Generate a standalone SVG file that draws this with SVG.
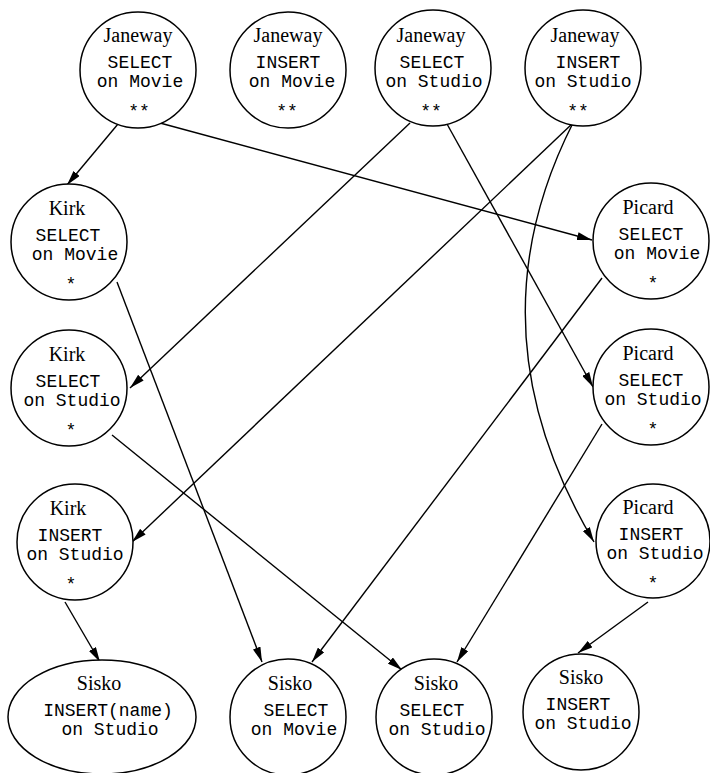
<svg xmlns="http://www.w3.org/2000/svg" width="710" height="773" viewBox="0 0 710 773">
<style>
.n{fill:#fff;stroke:#000;stroke-width:1.5}
.nm{font-family:"Liberation Serif","Times New Roman",serif;font-size:20px;text-anchor:middle;fill:#000}
.op{font-family:"Liberation Mono","Courier New",monospace;font-size:18px;text-anchor:middle;fill:#000}
.e{fill:none;stroke:#000;stroke-width:1.4;marker-end:url(#ah)}
</style>
<defs>
<marker id="ah" viewBox="0 0 15 8" refX="15" refY="4" markerWidth="15" markerHeight="8" markerUnits="userSpaceOnUse" orient="auto">
<path d="M0,0 L15,4 L0,8 z" fill="#000"/>
</marker>
</defs>
<rect width="710" height="773" fill="#fff"/>
<g id="edges">
<line class="e" x1="118" y1="124" x2="67" y2="185"/>
<line class="e" x1="160" y1="123" x2="592" y2="240"/>
<line class="e" x1="410" y1="123" x2="130" y2="388"/>
<line class="e" x1="447" y1="124" x2="593" y2="387"/>
<line class="e" x1="573" y1="123" x2="132" y2="542"/>
<path class="e" d="M573,123 Q468,330 594,542"/>
<line class="e" x1="117" y1="282" x2="262" y2="662"/>
<line class="e" x1="112" y1="435" x2="402" y2="670"/>
<line class="e" x1="602" y1="278" x2="312" y2="662"/>
<line class="e" x1="602" y1="424" x2="457" y2="662"/>
<line class="e" x1="648" y1="602" x2="578" y2="653"/>
<line class="e" x1="65" y1="602" x2="100" y2="662"/>
</g>
<g id="janeway-select-movie">
<circle class="n" cx="138" cy="70" r="58"/>
<text class="nm" x="138" y="42">Janeway</text>
<text class="op" x="140" y="68">SELECT</text>
<text class="op" x="140" y="87">on Movie</text>
<text class="op" x="139" y="117">**</text>
</g>
<g id="janeway-insert-movie">
<circle class="n" cx="288" cy="70" r="58"/>
<text class="nm" x="288" y="42">Janeway</text>
<text class="op" x="288" y="68">INSERT</text>
<text class="op" x="292" y="87">on Movie</text>
<text class="op" x="287" y="117">**</text>
</g>
<g id="janeway-select-studio">
<circle class="n" cx="433" cy="68" r="58"/>
<text class="nm" x="431" y="42">Janeway</text>
<text class="op" x="432" y="68">SELECT</text>
<text class="op" x="434" y="87">on Studio</text>
<text class="op" x="431" y="117">**</text>
</g>
<g id="janeway-insert-studio">
<circle class="n" cx="583" cy="68" r="58"/>
<text class="nm" x="585" y="42">Janeway</text>
<text class="op" x="588" y="68">INSERT</text>
<text class="op" x="583" y="87">on Studio</text>
<text class="op" x="578" y="117">**</text>
</g>
<g id="kirk-select-movie">
<circle class="n" cx="69" cy="242" r="58"/>
<text class="nm" x="67" y="215">Kirk</text>
<text class="op" x="68" y="241">SELECT</text>
<text class="op" x="75" y="260">on Movie</text>
<text class="op" x="71" y="290">*</text>
</g>
<g id="kirk-select-studio">
<circle class="n" cx="69" cy="388" r="58"/>
<text class="nm" x="67" y="361">Kirk</text>
<text class="op" x="68" y="387">SELECT</text>
<text class="op" x="72" y="406">on Studio</text>
<text class="op" x="71" y="436">*</text>
</g>
<g id="kirk-insert-studio">
<circle class="n" cx="75" cy="542" r="58"/>
<text class="nm" x="68" y="515">Kirk</text>
<text class="op" x="70" y="541">INSERT</text>
<text class="op" x="75" y="560">on Studio</text>
<text class="op" x="71" y="590">*</text>
</g>
<g id="picard-select-movie">
<circle class="n" cx="651" cy="241" r="58"/>
<text class="nm" x="648" y="214">Picard</text>
<text class="op" x="651" y="240">SELECT</text>
<text class="op" x="657" y="259">on Movie</text>
<text class="op" x="653" y="289">*</text>
</g>
<g id="picard-select-studio">
<circle class="n" cx="651" cy="387" r="58"/>
<text class="nm" x="648" y="360">Picard</text>
<text class="op" x="651" y="386">SELECT</text>
<text class="op" x="653" y="405">on Studio</text>
<text class="op" x="653" y="435">*</text>
</g>
<g id="picard-insert-studio">
<circle class="n" cx="653" cy="541" r="57"/>
<text class="nm" x="648" y="514">Picard</text>
<text class="op" x="651" y="540">INSERT</text>
<text class="op" x="655" y="559">on Studio</text>
<text class="op" x="653" y="589">*</text>
</g>
<g id="sisko-insert-name-studio">
<ellipse class="n" cx="102" cy="717" rx="94" ry="57"/>
<text class="nm" x="99" y="690">Sisko</text>
<text class="op" x="108" y="716">INSERT(name)</text>
<text class="op" x="110" y="735">on Studio</text>
</g>
<g id="sisko-select-movie">
<circle class="n" cx="288" cy="717" r="58"/>
<text class="nm" x="290" y="690">Sisko</text>
<text class="op" x="296" y="716">SELECT</text>
<text class="op" x="294" y="735">on Movie</text>
</g>
<g id="sisko-select-studio">
<circle class="n" cx="434" cy="717" r="58"/>
<text class="nm" x="436" y="690">Sisko</text>
<text class="op" x="432" y="716">SELECT</text>
<text class="op" x="437" y="735">on Studio</text>
</g>
<g id="sisko-insert-studio">
<circle class="n" cx="581" cy="712" r="58"/>
<text class="nm" x="581" y="684">Sisko</text>
<text class="op" x="578" y="710">INSERT</text>
<text class="op" x="583" y="729">on Studio</text>
</g>
</svg>
